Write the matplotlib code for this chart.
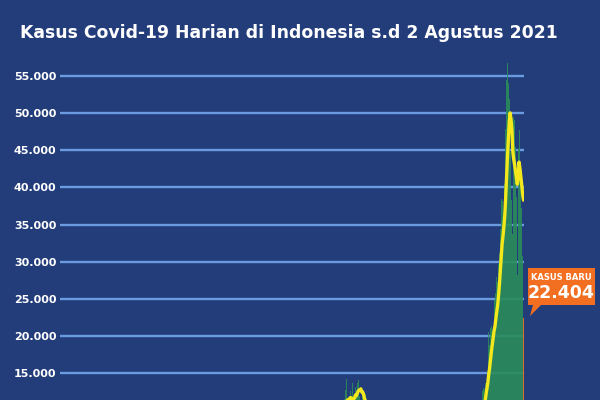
import pandas as pd
import matplotlib
matplotlib.use('Agg')
import matplotlib.pyplot as plt
import matplotlib.patches as mpatch

# daily new cases, Indonesia, 2 March 2020 - 2 August 2021
mar_2020 = [2, 0, 0, 0, 2, 0, 2, 13, 8, 7, 0, 35, 27, 21, 17, 38, 55, 82, 60, 81,
            64, 65, 107, 105, 103, 153, 109, 130, 129, 114]
apr_2020 = [149, 113, 196, 106, 181, 218, 247, 218, 337, 219, 330, 399, 316, 282, 297,
            380, 407, 325, 327, 185, 375, 283, 357, 436, 396, 275, 214, 415, 260, 347]
may_2020 = [433, 292, 349, 395, 484, 367, 338, 336, 533, 387, 233, 484, 689, 568, 490,
            529, 489, 496, 486, 693, 973, 634, 949, 526, 479, 415, 686, 687, 678, 700, 467]
jun_2020 = [609, 467, 684, 585, 703, 993, 672, 847, 1043, 1241, 979, 1111, 1014, 857, 1017,
            1106, 1031, 1331, 1041, 934, 862, 954, 1051, 1113, 1178, 1240, 1385, 1198, 1082, 1293]
jul_2020 = [1385, 1624, 1301, 1447, 1607, 1209, 1268, 1853, 2657, 1611, 1671, 1681, 1282,
            1591, 1522, 1574, 1462, 1752, 1639, 1693, 1655, 1882, 2040, 1761, 1868, 1492,
            1525, 1748, 2381, 1904, 2040]
aug_2020 = [1560, 1519, 1679, 1922, 1815, 1882, 2473, 2277, 1893, 1687, 1693, 2098, 2268,
            2307, 2081, 2345, 1821, 1673, 1902, 2266, 2197, 2167, 2037, 2447, 2306, 2306,
            2719, 3003, 2858, 2495, 2743]
sep_2020 = [2775, 3075, 3622, 3269, 3444, 3444, 2880, 3046, 3307, 3861, 3737, 3806, 3636,
            3141, 3507, 3963, 3635, 3891, 4168, 3989, 4176, 4071, 4465, 4634, 4823, 4494,
            3874, 3509, 4002, 4284]
oct_2020 = [4174, 4317, 4007, 3992, 3622, 4056, 4538, 4850, 4094, 4294, 4497, 3267, 3906,
            4127, 4411, 4301, 4301, 3732, 3373, 4267, 4267, 4432, 4369, 4070, 3829, 3222,
            3520, 4029, 3143, 2897, 3143]
nov_2020 = [2696, 2618, 2973, 4065, 4065, 4262, 4262, 3880, 2853, 3779, 3770, 5444, 5444,
            5272, 3807, 3535, 3807, 4265, 4798, 4792, 4998, 4360, 4442, 4192, 5534, 4917,
            5828, 5418, 4617, 5418]
dec_2020 = [5092, 5533, 8369, 5803, 6027, 6089, 5754, 6058, 6058, 6033, 6310, 6388, 6189,
            5489, 6120, 6725, 7354, 6689, 7751, 6982, 6848, 6347, 7514, 7199, 6084, 5854,
            5297, 4854, 6267, 8002, 8074]
jan_2021 = [8072, 6877, 7203, 6753, 7445, 8854, 9321, 10617, 10046, 9640, 8692, 10047,
            11278, 11557, 12818, 14224, 11287, 9086, 10365, 12568, 11703, 11749, 13632,
            11788, 9994, 13094, 11948, 13695, 14111, 14518, 12001]
feb_2021 = [10994, 10234, 11984, 11434, 10379, 12156, 10827, 8242, 8700, 8776, 8435, 9869,
            8844, 6765, 6462, 10029, 9687, 9039, 9003, 7300, 6156, 9775, 9775, 8493, 8493,
            8232, 6208, 5560]
mar_2021 = [6680, 5712, 6808, 7264, 6971, 5767, 4412, 5767, 5748, 5745, 4889, 5926, 5354,
            5133, 4076, 5223, 5690, 6885, 6373, 6234, 5416, 4723, 5006, 5227, 6293, 5575,
            4829, 4207, 5937, 5701, 6570]
apr_2021 = [5156, 5089, 4847, 3712, 4052, 4549, 5325, 6142, 5041, 5722, 4702, 4123, 5702,
            5949, 5656, 5353, 4585, 4079, 5040, 4731, 5357, 5720, 5491, 5308, 4436, 3862,
            4173, 5241, 5241, 5657]
may_2021 = [4531, 4394, 3642, 4369, 4608, 5191, 5475, 4329, 3982, 3922, 4891, 4608, 2633,
            2385, 3080, 2577, 3448, 4871, 5749, 5797, 5746, 5744, 5296, 3992, 4952, 6293,
            5797, 5813, 5393, 4277, 4827]
jun_2021 = [4824, 5246, 5353, 6594, 6486, 5843, 6993, 7625, 7725, 8892, 8161, 8083, 9868,
            8189, 8161, 9944, 12624, 12990, 12906, 13737, 14536, 13668, 15308, 20574,
            18872, 21095, 21342, 20694, 20467, 21807]
jul_2021 = [24836, 25830, 27913, 27233, 29745, 31189, 34379, 38391, 38124, 35094, 36197,
            40427, 47899, 54517, 56757, 54000, 51952, 44721, 34257, 38325, 33772, 49509,
            49071, 45416, 38679, 28228, 45203, 47791, 43479, 41168, 37284]
aug_2021 = [30738, 22404]

title = 'Kasus Covid-19 Harian di Indonesia s.d 2 Agustus 2021'
callout_label = 'KASUS BARU'
y_ticks = [15000, 20000, 25000, 30000, 35000, 40000, 45000, 50000, 55000]

BG = '#233d7b'
GREEN = '#2a8d5a'
ORANGE = '#f26f21'
YELLOW = '#f3e81b'
GRID = '#6a9be0'

cases = (mar_2020 + apr_2020 + may_2020 + jun_2020 + jul_2020 + aug_2020 + sep_2020 +
         oct_2020 + nov_2020 + dec_2020 + jan_2021 + feb_2021 + mar_2021 + apr_2021 +
         may_2021 + jun_2021 + jul_2021 + aug_2021)
df = pd.DataFrame({'date': pd.date_range('2020-03-02', periods=len(cases), freq='D'),
                   'cases': cases})
df['avg7'] = df['cases'].rolling(7).mean()


def dots(v):
    return '{:,}'.format(int(v)).replace(',', '.')


fig = plt.figure(figsize=(6, 4), dpi=100, facecolor=BG)
# axes run past the bottom edge of the picture, like the cropped original
ax = fig.add_axes([60 / 600, 0, 464 / 600, 340 / 400])
ax.set_facecolor(BG)

colors = [GREEN] * (len(df) - 1) + [ORANGE]
widths = [1.0] * (len(df) - 1) + [0.5]
ax.bar(df['date'], df['cases'], width=widths, color=colors, alpha=0.9,
       linewidth=0, zorder=3)
ax.plot(df['date'], df['avg7'], color=YELLOW, linewidth=2.4, zorder=4,
        solid_capstyle='round')

for v in [10000] + y_ticks:
    ax.axhline(v, color=GRID, linewidth=1.7, zorder=2)

ax.set_yticks(y_ticks)
ax.set_yticklabels([dots(v) for v in y_ticks])
ax.set_ylim(11408, 57153)
ax.set_xlim(df['date'].iloc[0] - pd.Timedelta(hours=12),
            df['date'].iloc[-1] + pd.Timedelta(hours=12))
ax.tick_params(axis='y', length=0, pad=2.5, labelsize=8, labelcolor='white')
for lab in ax.get_yticklabels():
    lab.set_fontweight('bold')
ax.set_xticks([])
for s in ax.spines.values():
    s.set_visible(False)

fig.text(20 / 600, 1 - 38 / 400, title, color='white', fontsize=12.4,
         fontweight='bold', va='baseline', ha='left')

# callout box for the latest value
W, H = 600.0, 400.0
pts = [(528, 268), (595, 268), (595, 305), (541, 305), (530, 316), (533, 305), (528, 305)]
box = mpatch.Polygon([(x / W, 1 - y / H) for x, y in pts], closed=True,
                     transform=fig.transFigure, facecolor=ORANGE, edgecolor='none')
fig.patches.append(box)
fig.text(561.5 / W, 1 - 277 / H, callout_label, color='white', fontsize=6,
         fontweight='bold', ha='center', va='center')
fig.text(561.5 / W, 1 - 293.5 / H, dots(df['cases'].iloc[-1]), color='white',
         fontsize=12.5, fontweight='bold', ha='center', va='center')

fig.savefig('out.png', dpi=100, facecolor=BG)
